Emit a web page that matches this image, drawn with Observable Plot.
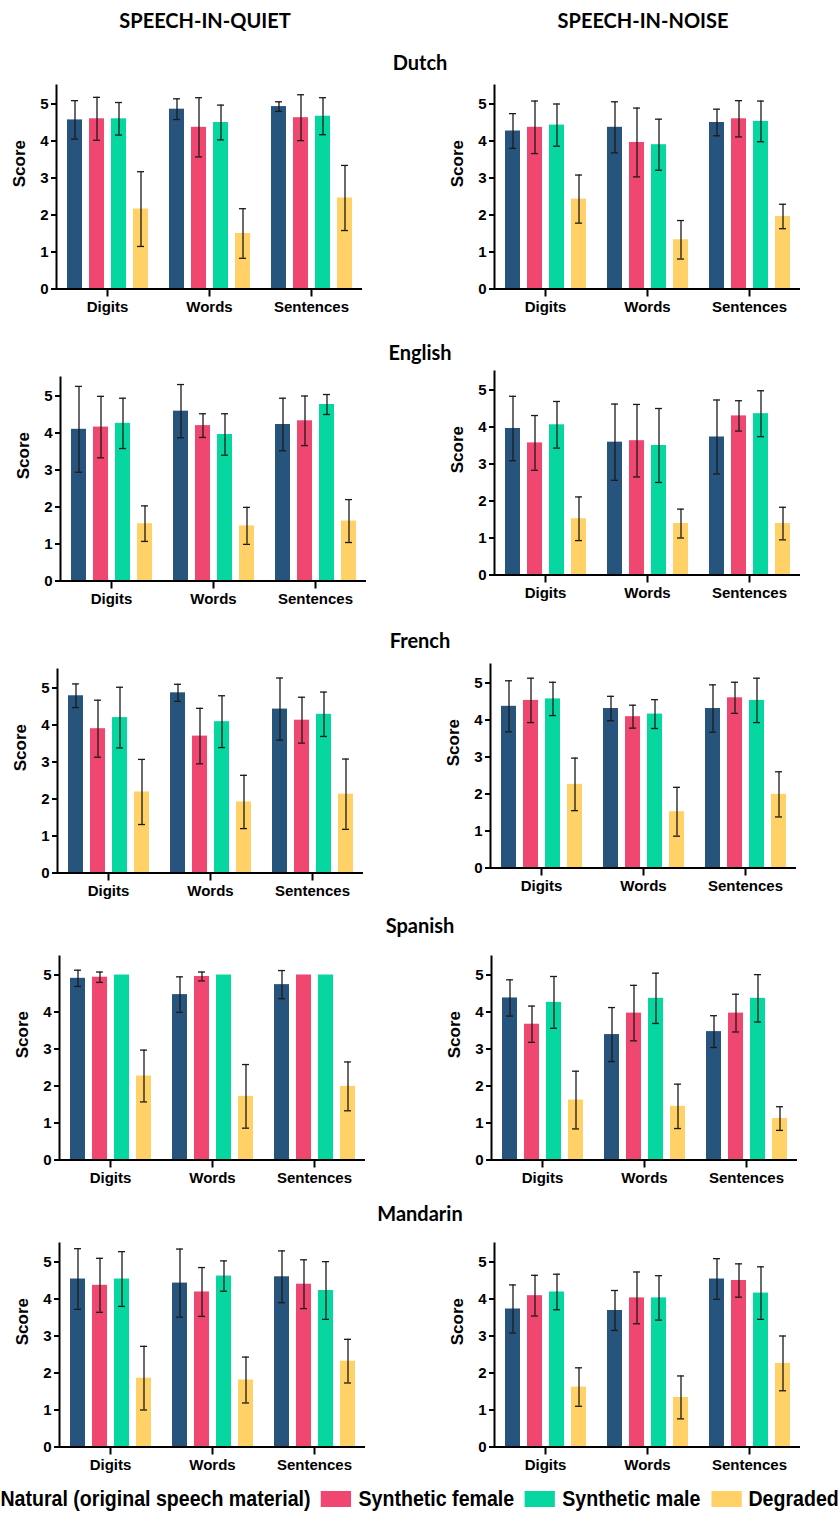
<!DOCTYPE html>
<html>
<head>
<meta charset="utf-8">
<script src="https://cdn.jsdelivr.net/npm/d3@7"></script>
<script src="https://cdn.jsdelivr.net/npm/@observablehq/plot@0.6"></script>
<style>
  body { margin: 0; background: #fff; }
  #page { position: relative; width: 840px; height: 1522px; overflow: hidden; font-family: "Liberation Sans", Arial, sans-serif; }
  .head { position: absolute; font-family: Lato, "Open Sans", sans-serif; font-weight: bold; font-size: 20px; transform: translate(-50%, -50%); white-space: nowrap; color: #000; }
  .panel { position: absolute; }
  #legend { position: absolute; display: flex; align-items: center; white-space: nowrap;
            font-family: "Liberation Sans", Arial, sans-serif; font-weight: bold; font-size: 22px; color: #000;
            transform: scaleX(0.89); transform-origin: 0 50%; }
  #legend .item { display: flex; align-items: center; margin-right: 12px; }
  #legend .sw { width: 34px; height: 16px; margin-right: 8px; }
</style>
</head>
<body>
<div id="page"></div>
<script>
// Categories, conditions and panel labels
const categories = ["Digits", "Words", "Sentences"];
const conditions = ["Natural (original speech material)", "Synthetic female", "Synthetic male", "Degraded"];
const colors = ["#26547C", "#EF476F", "#06D6A0", "#FFD166"];
const languages = ["Dutch", "English", "French", "Spanish", "Mandarin"];
const settings = ["SPEECH-IN-QUIET", "SPEECH-IN-NOISE"];
const yTicks = [0, 1, 2, 3, 4, 5];

// Mean scores: one row per category (Digits, Words, Sentences), one column per condition
const dutchQuietMean    = [[4.57, 4.60, 4.60, 2.16], [4.86, 4.37, 4.50, 1.50], [4.93, 4.63, 4.67, 2.46]];
const dutchQuietSd      = [[0.52, 0.58, 0.44, 1.01], [0.28, 0.80, 0.47, 0.67], [0.13, 0.62, 0.50, 0.88]];
const dutchNoiseMean    = [[4.27, 4.37, 4.43, 2.43], [4.37, 3.96, 3.90, 1.33], [4.50, 4.60, 4.53, 1.96]];
const dutchNoiseSd      = [[0.47, 0.71, 0.57, 0.65], [0.69, 0.93, 0.69, 0.52], [0.36, 0.49, 0.55, 0.33]];
const englishQuietMean  = [[4.10, 4.16, 4.26, 1.55], [4.59, 4.20, 3.96, 1.49], [4.23, 4.33, 4.77, 1.62]];
const englishQuietSd    = [[1.16, 0.83, 0.68, 0.48], [0.72, 0.32, 0.56, 0.50], [0.71, 0.67, 0.27, 0.58]];
const englishNoiseMean  = [[3.96, 3.57, 4.06, 1.52], [3.59, 3.63, 3.50, 1.39], [3.73, 4.30, 4.36, 1.39]];
const englishNoiseSd    = [[0.87, 0.74, 0.63, 0.59], [1.03, 0.98, 1.00, 0.39], [1.00, 0.41, 0.62, 0.44]];
const frenchQuietMean   = [[4.79, 3.90, 4.20, 2.19], [4.87, 3.70, 4.09, 1.92], [4.43, 4.13, 4.29, 2.13]];
const frenchQuietSd     = [[0.32, 0.77, 0.82, 0.88], [0.23, 0.75, 0.70, 0.72], [0.84, 0.62, 0.60, 0.95]];
const frenchNoiseMean   = [[4.37, 4.53, 4.57, 2.26], [4.31, 4.09, 4.16, 1.52], [4.31, 4.60, 4.53, 1.99]];
const frenchNoiseSd     = [[0.69, 0.60, 0.45, 0.71], [0.33, 0.31, 0.39, 0.66], [0.64, 0.42, 0.60, 0.61]];
const spanishQuietMean  = [[4.91, 4.94, 5.00, 2.27], [4.47, 4.96, 5.00, 1.72], [4.74, 5.00, 5.00, 1.99]];
const spanishQuietSd    = [[0.22, 0.14, 0.00, 0.70], [0.48, 0.12, 0.00, 0.86], [0.38, 0.00, 0.00, 0.66]];
const spanishNoiseMean  = [[4.38, 3.67, 4.26, 1.62], [3.39, 3.97, 4.37, 1.45], [3.47, 3.97, 4.37, 1.12]];
const spanishNoiseSd    = [[0.49, 0.49, 0.70, 0.78], [0.73, 0.75, 0.68, 0.60], [0.43, 0.51, 0.64, 0.32]];
const mandarinQuietMean = [[4.54, 4.37, 4.54, 1.86], [4.43, 4.19, 4.62, 1.81], [4.60, 4.40, 4.23, 2.32]];
const mandarinQuietSd   = [[0.82, 0.73, 0.74, 0.86], [0.92, 0.66, 0.41, 0.62], [0.70, 0.66, 0.78, 0.59]];
const mandarinNoiseMean = [[3.73, 4.09, 4.19, 1.62], [3.69, 4.03, 4.03, 1.34], [4.54, 4.50, 4.16, 2.26]];
const mandarinNoiseSd   = [[0.65, 0.55, 0.48, 0.52], [0.54, 0.70, 0.60, 0.58], [0.55, 0.45, 0.71, 0.74]];

// Page layout: baseline (y = 0) and y-axis position of every panel, in page pixels
const layout = [
  {lang: "Dutch",    titleY: 62,   quiet: {zero: 288, axis: 55}, noise: {zero: 288, axis: 493}, q: [dutchQuietMean, dutchQuietSd],       n: [dutchNoiseMean, dutchNoiseSd]},
  {lang: "English",  titleY: 352,  quiet: {zero: 580, axis: 59}, noise: {zero: 574, axis: 493}, q: [englishQuietMean, englishQuietSd],   n: [englishNoiseMean, englishNoiseSd]},
  {lang: "French",   titleY: 640,  quiet: {zero: 872, axis: 56}, noise: {zero: 867, axis: 489}, q: [frenchQuietMean, frenchQuietSd],     n: [frenchNoiseMean, frenchNoiseSd]},
  {lang: "Spanish",  titleY: 925,  quiet: {zero: 1159, axis: 58}, noise: {zero: 1159, axis: 490}, q: [spanishQuietMean, spanishQuietSd], n: [spanishNoiseMean, spanishNoiseSd]},
  {lang: "Mandarin", titleY: 1213, quiet: {zero: 1446, axis: 58}, noise: {zero: 1446, axis: 493}, q: [mandarinQuietMean, mandarinQuietSd], n: [mandarinNoiseMean, mandarinNoiseSd]}
];

const W = 420, H = 250, MT = 12, MB = 34.5, PLOT_W = 308;
const page = document.getElementById("page");

function addText(cls, text, x, y) {
  const el = document.createElement("div");
  el.className = cls;
  el.textContent = text;
  el.style.left = x + "px";
  el.style.top = y + "px";
  page.appendChild(el);
}

function panel(means, sds, marginLeft) {
  const rows = categories.flatMap((c, i) => conditions.map((k, j) => ({category: c, condition: k, mean: means[i][j], sd: sds[i][j]})));
  const errs = rows.filter(d => d.sd > 0);
  const err = {fx: "category", x: "condition", stroke: "#1b1b1b", strokeWidth: 1.3};
  return Plot.plot({
    width: W, height: H,
    marginTop: MT, marginBottom: MB, marginLeft, marginRight: W - marginLeft - PLOT_W,
    style: {fontFamily: '"Liberation Sans", Arial, sans-serif', background: "transparent"},
    fx: {domain: categories, padding: 0, label: null},
    x: {domain: conditions, paddingInner: 0.33, paddingOuter: 0.45, axis: null},
    y: {domain: [0, 5.5], axis: null},
    color: {domain: conditions, range: colors},
    marks: [
      Plot.barY(rows, {fx: "category", x: "condition", y: "mean", fill: "condition"}),
      Plot.ruleX(errs, {...err, y1: d => d.mean - d.sd, y2: d => d.mean + d.sd}),
      Plot.tickY(errs, {...err, y: d => d.mean - d.sd, insetLeft: 4, insetRight: 4}),
      Plot.tickY(errs, {...err, y: d => d.mean + d.sd, insetLeft: 4, insetRight: 4}),
      Plot.ruleY([0], {stroke: "#000", strokeWidth: 2}),
      Plot.frame({anchor: "left", facetAnchor: "left", stroke: "#000", strokeWidth: 2}),
      Plot.axisY({ticks: yTicks, tickFormat: d3.format("d"), tickSize: 5, tickPadding: 3, label: null,
                  fontSize: 15, fontWeight: "bold", stroke: "#000", strokeWidth: 2, fill: "#000"}),
      Plot.axisFx({anchor: "bottom", tickSize: 8, tickPadding: 4, label: null, fontSize: 15, fontWeight: "bold",
                   stroke: "#000", strokeWidth: 2, fill: "#000"}),
      Plot.text(["Score"], {fx: () => categories[0], frameAnchor: "left", rotate: -90, dx: -37,
                            fontSize: 17, fontWeight: "bold", fill: "#000"})
    ]
  });
}

// Column headers
addText("head", settings[0], 205, 20);
addText("head", settings[1], 643, 20);

for (const row of layout) {
  addText("head", row.lang, 420, row.titleY);
  for (const [side, data] of [["quiet", row.q], ["noise", row.n]]) {
    const spec = row[side];
    const ml = side === "noise" ? 73 : 55;
    const svg = panel(data[0], data[1], ml);
    const wrap = document.createElement("div");
    wrap.className = "panel";
    wrap.style.left = (spec.axis - ml) + "px";
    wrap.style.top = (spec.zero - (H - MB)) + "px";
    wrap.appendChild(svg);
    page.appendChild(wrap);
  }
}

// Legend (first swatch runs off the left edge of the page)
const legend = document.createElement("div");
legend.id = "legend";
conditions.forEach((k, i) => {
  const item = document.createElement("div");
  item.className = "item";
  const sw = document.createElement("div");
  sw.className = "sw";
  sw.style.background = colors[i];
  const label = document.createElement("span");
  label.textContent = k;
  item.appendChild(sw);
  item.appendChild(label);
  legend.appendChild(item);
});
legend.style.left = "-37px";
legend.style.top = "1486px";
page.appendChild(legend);
</script>
</body>
</html>
